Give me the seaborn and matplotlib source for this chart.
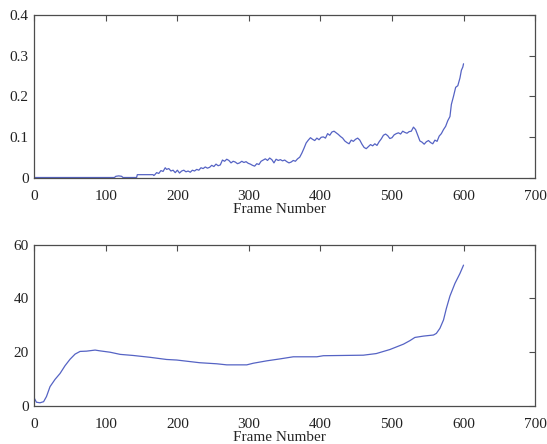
import matplotlib
matplotlib.use("Agg")
import matplotlib.pyplot as plt
import seaborn as sns
import pandas as pd

# Upper trace: per-frame measure (noisy, sparse early on)
frames_top = [0, 112, 114, 118, 122, 124, 143, 144, 166, 167, 168,
              171, 174, 177, 180, 183, 185, 188, 191, 194, 197, 200,
              203, 206, 209, 212, 215, 218, 221, 224, 227, 230, 233,
              236, 239, 242, 245, 248, 251, 254, 257, 260, 263, 266,
              269, 272, 275, 278, 281, 284, 287, 290, 293, 296, 299,
              302, 305, 308, 311, 314, 317, 320, 323, 326, 329, 332,
              335, 338, 341, 344, 347, 350, 353, 356, 359, 362, 365,
              368, 371, 374, 377, 380, 383, 386, 389, 392, 395, 398,
              401, 404, 407, 410, 413, 416, 419, 422, 425, 428, 431,
              434, 437, 440, 443, 446, 449, 452, 455, 458, 461, 464,
              467, 470, 473, 476, 479, 482, 485, 488, 491, 494, 497,
              500, 503, 506, 509, 512, 515, 518, 521, 524, 527, 530,
              533, 536, 539, 542, 545, 548, 551, 554, 557, 560, 563,
              566, 569, 572, 575, 578, 581, 583, 586, 589, 592, 595,
              597, 599, 600]
values_top = [0, 0, 0.003, 0.004, 0.003, 0, 0, 0.007, 0.007, 0.005, 0.006,
              0.012, 0.010, 0.017, 0.015, 0.024, 0.020, 0.022, 0.016, 0.018, 0.012, 0.018,
              0.011, 0.016, 0.018, 0.014, 0.016, 0.013, 0.018, 0.016, 0.020, 0.018, 0.024,
              0.022, 0.026, 0.023, 0.025, 0.030, 0.027, 0.033, 0.029, 0.031, 0.043, 0.040,
              0.045, 0.042, 0.036, 0.040, 0.038, 0.034, 0.036, 0.040, 0.037, 0.039, 0.035,
              0.033, 0.030, 0.028, 0.034, 0.032, 0.040, 0.043, 0.046, 0.042, 0.048, 0.044,
              0.036, 0.045, 0.042, 0.044, 0.041, 0.043, 0.039, 0.036, 0.038, 0.042, 0.040,
              0.046, 0.050, 0.060, 0.072, 0.085, 0.092, 0.098, 0.094, 0.091, 0.097, 0.093,
              0.099, 0.100, 0.097, 0.108, 0.104, 0.112, 0.114, 0.110, 0.106, 0.101, 0.097,
              0.090, 0.086, 0.083, 0.092, 0.089, 0.094, 0.097, 0.092, 0.082, 0.074, 0.071,
              0.076, 0.081, 0.078, 0.083, 0.079, 0.088, 0.095, 0.104, 0.107, 0.103, 0.096,
              0.098, 0.105, 0.108, 0.110, 0.107, 0.114, 0.111, 0.109, 0.113, 0.114, 0.124,
              0.118, 0.104, 0.090, 0.087, 0.082, 0.088, 0.091, 0.086, 0.083, 0.092, 0.089,
              0.102, 0.108, 0.118, 0.126, 0.140, 0.150, 0.180, 0.200, 0.222, 0.226, 0.245,
              0.264, 0.272, 0.280]

# Lower trace: smooth cumulative measure
frames_bot = [0, 3, 8, 13, 17, 22, 29, 36, 43, 50, 57, 64, 73, 85, 92,
              106, 120, 138, 162, 185, 199, 231, 255, 269, 297, 306, 325,
              343, 362, 395, 404, 460, 478, 497, 516, 525, 532, 544, 558,
              562, 567, 572, 576, 581, 588, 595, 600]
values_bot = [2.9, 1.4, 1.2, 1.6, 3.5, 7.2, 9.9, 12.1, 15.0, 17.4, 19.3, 20.3,
              20.4, 20.8, 20.5, 20.0, 19.2, 18.8, 18.1, 17.3, 17.1, 16.1, 15.7,
              15.3, 15.3, 15.9, 16.8, 17.5, 18.3, 18.3, 18.7, 18.9, 19.5, 21.0,
              23.0, 24.3, 25.5, 26.0, 26.4, 27.0, 28.9, 32.0, 36.3, 40.9, 45.6,
              49.3, 52.4]

x_ticks = [0, 100, 200, 300, 400, 500, 600, 700]
top_ticks = [0, 0.1, 0.2, 0.3, 0.4]
top_labels = ["0", "0.1", "0.2", "0.3", "0.4"]
bot_ticks = [0, 20, 40, 60]
x_label = "Frame Number"

sns.set_style("white")
plt.rcParams["font.family"] = ["Liberation Serif", "DejaVu Serif"]
plt.rcParams["font.size"] = 11

line_color = "#5563c4"
edge_color = "#4d4d4d"

fig = plt.figure(figsize=(5.47, 4.44), dpi=100)
ax1 = fig.add_axes([0.0627, 0.6002, 0.9155, 0.366])
ax2 = fig.add_axes([0.0627, 0.0856, 0.9155, 0.3633])

df_top = pd.DataFrame({"frame": frames_top, "value": values_top})
df_bot = pd.DataFrame({"frame": frames_bot, "value": values_bot})

sns.lineplot(data=df_top, x="frame", y="value", ax=ax1, color=line_color,
             linewidth=0.9)
sns.lineplot(data=df_bot, x="frame", y="value", ax=ax2, color=line_color,
             linewidth=0.9)

for ax, yt, yl, ylim in ((ax1, top_ticks, top_labels, (0, 0.4)),
                         (ax2, bot_ticks, [str(v) for v in bot_ticks], (0, 60))):
    ax.set_xlim(0, 700)
    ax.set_ylim(*ylim)
    ax.set_xticks(x_ticks)
    ax.set_xticklabels([str(v) for v in x_ticks])
    ax.set_yticks(yt)
    ax.set_yticklabels(yl)
    ax.set_xlabel(x_label, fontsize=11, labelpad=3)
    ax.xaxis.set_label_coords(0.49, -0.155)
    ax.set_ylabel("")
    ax.tick_params(direction="in", length=4, width=0.8, colors=edge_color,
                   labelcolor="#222222", top=True, right=True, labelsize=11)
    ax.tick_params(axis="x", pad=9)
    ax.tick_params(axis="y", pad=4)
    for sp in ax.spines.values():
        sp.set_visible(True)
        sp.set_color(edge_color)
        sp.set_linewidth(0.9)

fig.savefig("out.png", dpi=100)
